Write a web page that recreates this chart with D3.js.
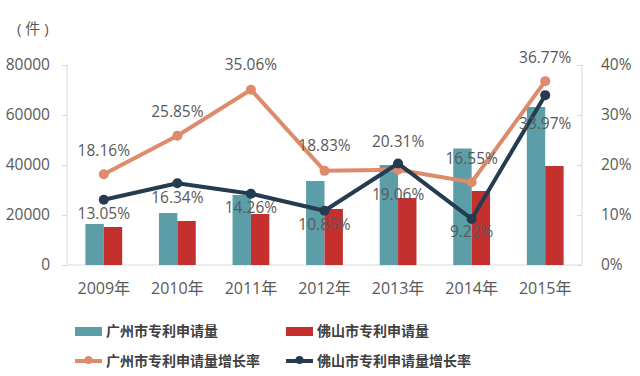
<!DOCTYPE html>
<html>
<head>
<meta charset="utf-8">
<script src="https://cdn.jsdelivr.net/npm/d3@7"></script>
<style>
  body { margin: 0; background: #fff; }
  text { font-family: "Open Sans", "Noto Sans CJK SC", sans-serif; }
</style>
</head>
<body>
<div id="chart"></div>
<script>
// data
const years = ["2009年", "2010年", "2011年", "2012年", "2013年", "2014年", "2015年"];
const gzApply = [16400, 20800, 28000, 33600, 40000, 46600, 63200];
const fsApply = [15200, 17600, 20400, 22400, 26800, 29600, 39600];
const gzGrowth = [18.16, 25.85, 35.06, 18.83, 19.06, 16.55, 36.77];
const fsGrowth = [13.05, 16.34, 14.26, 10.85, 20.31, 9.22, 33.97];
// label offsets as they sit in the original (2013 labels swapped sides)
const gzLabelDy = [-24, -24, -25, -25, 25, -24, -24];
const fsLabelDy = [14, 14, 14, 14, -22, 13, 28];
const leftTicks = [0, 20000, 40000, 60000, 80000];
const rightTicks = [0, 10, 20, 30, 40];

const colors = ["#5b9ea8", "#c3302e", "#dd8b6b", "#243b50"]; // gz bar, fs bar, gz line, fs line
const textColor = "#595959";
const axisColor = "#d9d9d9";

const W = 640, H = 376;
const margin = {top: 65, right: 58, bottom: 111, left: 67};
const w = W - margin.left - margin.right;
const h = H - margin.top - margin.bottom;

const svg = d3.select("#chart").append("svg")
    .attr("width", W)
    .attr("height", H);

const g = svg.append("g").attr("transform", `translate(${margin.left},${margin.top})`);

const x = d3.scaleBand().domain(years).range([0, w]).paddingInner(0.5).paddingOuter(0.25);
const xSub = d3.scaleBand().domain([0, 1]).range([0, x.bandwidth()]);
const yL = d3.scaleLinear().domain([0, 80000]).range([h, 0]);
const yR = d3.scaleLinear().domain([0, 40]).range([h, 0]);
const cx = d => x(d) + x.bandwidth() / 2;

// axes
const leftAxis = g.append("g")
    .call(d3.axisLeft(yL).tickValues(leftTicks).tickFormat(d3.format("d")).tickSize(5).tickPadding(12));
leftAxis.select(".domain").attr("stroke", axisColor).attr("d", `M0,0V${h}`);
leftAxis.selectAll(".tick line").attr("stroke", axisColor);
leftAxis.selectAll("text").attr("fill", textColor).attr("font-size", 15.5);

const rightAxis = g.append("g")
    .attr("transform", `translate(${w},0)`)
    .call(d3.axisRight(yR).tickValues(rightTicks).tickFormat(d => d + "%").tickSize(-5).tickPadding(19));
rightAxis.select(".domain").attr("stroke", axisColor).attr("d", `M0,0V${h}`);
rightAxis.selectAll(".tick line").attr("stroke", axisColor);
rightAxis.selectAll("text").attr("fill", textColor).attr("font-size", 15.5);

const bottomAxis = g.append("g")
    .attr("transform", `translate(0,${h})`)
    .call(d3.axisBottom(x).tickSize(0).tickPadding(18));
bottomAxis.select(".domain").attr("stroke", axisColor).attr("d", `M0,0H${w}`);
bottomAxis.selectAll("text").attr("fill", textColor).attr("font-size", 16)
    .attr("font-family", "'Open Sans', 'Noto Sans CJK SC', sans-serif");

svg.append("text")
    .attr("x", 17).attr("y", 34)
    .attr("fill", textColor).attr("font-size", 15)
    .attr("font-family", "'Open Sans', 'Noto Sans CJK SC', sans-serif")
    .text("( 件 )");

// bars
g.selectAll(".bar-gz").data(years).join("rect")
    .attr("class", "bar-gz")
    .attr("x", d => x(d) + xSub(0))
    .attr("width", xSub.bandwidth())
    .attr("y", (d, i) => yL(gzApply[i]))
    .attr("height", (d, i) => h - yL(gzApply[i]))
    .attr("fill", colors[0]);

g.selectAll(".bar-fs").data(years).join("rect")
    .attr("class", "bar-fs")
    .attr("x", d => x(d) + xSub(1))
    .attr("width", xSub.bandwidth())
    .attr("y", (d, i) => yL(fsApply[i]))
    .attr("height", (d, i) => h - yL(fsApply[i]))
    .attr("fill", colors[1]);

// lines
const line = d3.line().x(d => cx(d[0])).y(d => yR(d[1]));
[[gzGrowth, colors[2]], [fsGrowth, colors[3]]].forEach(([vals, col]) => {
    const pts = years.map((yr, i) => [yr, vals[i]]);
    g.append("path")
        .datum(pts)
        .attr("d", line)
        .attr("fill", "none")
        .attr("stroke", col)
        .attr("stroke-width", 4)
        .attr("stroke-linejoin", "round");
    g.selectAll(null).data(pts).join("circle")
        .attr("cx", d => cx(d[0]))
        .attr("cy", d => yR(d[1]))
        .attr("r", 5)
        .attr("fill", col);
});

// value labels
const labelSets = [[gzGrowth, gzLabelDy], [fsGrowth, fsLabelDy]];
labelSets.forEach(([vals, dys]) => {
    g.selectAll(null).data(years).join("text")
        .attr("x", d => cx(d))
        .attr("y", (d, i) => yR(vals[i]) + dys[i])
        .attr("dy", "0.35em")
        .attr("text-anchor", "middle")
        .attr("fill", textColor)
        .attr("font-size", 15.5)
        .text((d, i) => vals[i].toFixed(2) + "%");
});

// legend
const legendItems = [
    {label: "广州市专利申请量", color: colors[0], type: "rect", x: 75, y: 331},
    {label: "佛山市专利申请量", color: colors[1], type: "rect", x: 286, y: 331},
    {label: "广州市专利申请量增长率", color: colors[2], type: "line", x: 75, y: 361},
    {label: "佛山市专利申请量增长率", color: colors[3], type: "line", x: 286, y: 361}
];
const legend = svg.append("g");
legendItems.forEach(item => {
    if (item.type === "rect") {
        legend.append("rect")
            .attr("x", item.x).attr("y", item.y - 4)
            .attr("width", 27).attr("height", 9)
            .attr("fill", item.color);
    } else {
        legend.append("line")
            .attr("x1", item.x).attr("x2", item.x + 27)
            .attr("y1", item.y).attr("y2", item.y)
            .attr("stroke", item.color).attr("stroke-width", 4);
        legend.append("circle")
            .attr("cx", item.x + 13.5).attr("cy", item.y - 1)
            .attr("r", 4).attr("fill", item.color);
    }
    legend.append("text")
        .attr("x", item.x + 31).attr("y", item.y)
        .attr("dy", "0.35em")
        .attr("fill", "#404040")
        .attr("font-size", 14)
        .attr("font-weight", "bold")
        .attr("font-family", "'Noto Sans CJK SC', sans-serif")
        .text(item.label);
});
</script>
</body>
</html>
